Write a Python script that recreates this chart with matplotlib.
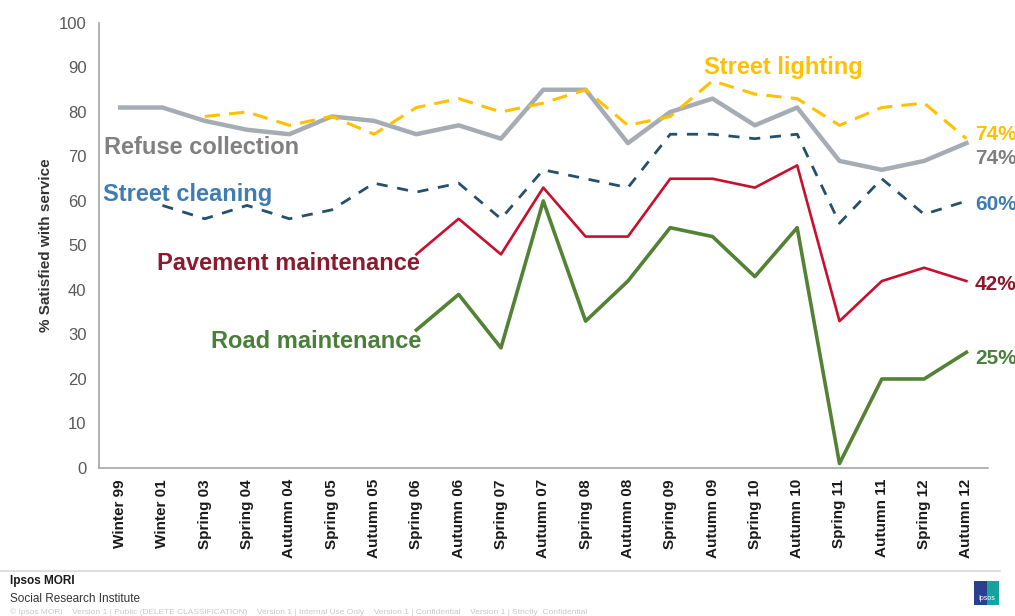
import matplotlib.pyplot as plt
from matplotlib.patches import Rectangle

plt.rcParams['font.family'] = ['Liberation Sans', 'DejaVu Sans']

waves = ['Winter 99', 'Winter 01', 'Spring 03', 'Spring 04', 'Autumn 04', 'Spring 05',
         'Autumn 05', 'Spring 06', 'Autumn 06', 'Spring 07', 'Autumn 07', 'Spring 08',
         'Autumn 08', 'Spring 09', 'Autumn 09', 'Spring 10', 'Autumn 10', 'Spring 11',
         'Autumn 11', 'Spring 12', 'Autumn 12']

# each series starts at a different wave (index into waves)
refuse_start = 0
refuse = [81, 81, 78, 76, 75, 79, 78, 75, 77, 74, 85, 85, 73, 80, 83, 77, 81, 69, 67, 69, 73]
lighting_start = 2
lighting = [79, 80, 77, 79, 75, 81, 83, 80, 82, 85, 77, 79, 87, 84, 83, 77, 81, 82, 74]
cleaning_start = 1
cleaning = [59, 56, 59, 56, 58, 64, 62, 64, 56, 67, 65, 63, 75, 75, 74, 75, 55, 65, 57, 60]
pavement_start = 7
pavement = [48, 56, 48, 63, 52, 52, 65, 65, 63, 68, 33, 42, 45, 42]
road_start = 7
road = [31, 39, 27, 60, 33, 42, 54, 52, 43, 54, 1, 20, 20, 26]

end_labels = ['74%', '74%', '60%', '42%', '25%']

fig = plt.figure(figsize=(10.15, 6.16), dpi=100)
ax = fig.add_axes([0.0975, 0.2403, 0.8755, 0.7224])

def xs(start, vals):
    return list(range(start, start + len(vals)))

ax.plot(xs(refuse_start, refuse), refuse, color='#A5ACB4', lw=3.2, zorder=3)
ax.plot(xs(lighting_start, lighting), lighting, color='#FFC000', lw=2.2,
        dashes=(5, 3), zorder=4)
ax.plot(xs(cleaning_start, cleaning), cleaning, color='#24506E', lw=2.0,
        dashes=(4, 3.5), zorder=3)
ax.plot(xs(pavement_start, pavement), pavement, color='#C8102E', lw=1.9, zorder=3)
ax.plot(xs(road_start, road), road, color='#548235', lw=2.6, zorder=3)

# series names
lab = dict(fontsize=17, fontweight='bold', va='center')
ax.text(-0.37, 72, 'Refuse collection', color='#808080', ha='left', **lab)
ax.text(13.8, 90, 'Street lighting', color='#FFC000', ha='left', **lab)
ax.text(-0.4, 61.5, 'Street cleaning', color='#3F7CB0', ha='left', **lab)
ax.text(7.08, 46, 'Pavement maintenance', color='#8B1A2E', ha='right', **lab)
ax.text(7.12, 28.5, 'Road maintenance', color='#4A7F3A', ha='right', **lab)

# last values at right edge
end_cols = ['#FFC000', '#808080', '#3F7CB0', '#8B1A2E', '#4A7F3A']
end_y = [75.0, 69.5, 59.3, 41.2, 24.6]
for txt, c, yy in zip(end_labels, end_cols, end_y):
    ax.text(20.2, yy, txt, color=c, fontsize=15, fontweight='bold', va='center',
            ha='left', clip_on=False)

ax.set_xlim(-0.5, len(waves) - 0.5)
ax.set_ylim(0, 100)
ax.set_yticks(range(0, 101, 10))
ax.set_xticks(range(len(waves)))
ax.set_xticklabels(waves, rotation=90, fontsize=11, fontweight='bold', color='#1A1A1A')
ax.tick_params(axis='x', length=0, pad=8)
ax.tick_params(axis='y', length=0, pad=9, labelsize=12, labelcolor='#595959')
ax.set_ylabel('% Satisfied with service', fontsize=11, fontweight='bold',
              color='#333333', labelpad=4)

for s in ['top', 'right']:
    ax.spines[s].set_visible(False)
for s in ['left', 'bottom']:
    ax.spines[s].set_color('#A6A6A6')
    ax.spines[s].set_linewidth(1.2)

# footer
fig.add_artist(plt.Line2D([0, 0.985], [1 - 571 / 616, 1 - 571 / 616],
                          color='#D9D9D9', lw=1.2))
fig.text(10 / 1015, 1 - 581 / 616, 'Ipsos MORI', fontsize=8.5, fontweight='bold',
         color='#1A1A1A', va='center')
fig.text(10 / 1015, 1 - 599 / 616, 'Social Research Institute', fontsize=8.5,
         color='#333333', va='center')
fig.text(10 / 1015, 1 - 612 / 616,
         '\u00a9 Ipsos MORI    Version 1 | Public (DELETE CLASSIFICATION)    Version 1 | Internal Use Only    '
         'Version 1 | Confidential    Version 1 | Strictly  Confidential',
         fontsize=6, color='#C8C8C8', va='center')
fig.add_artist(Rectangle((974 / 1015, 1 - 605 / 616), 25 / 1015, 24 / 616,
                         transform=fig.transFigure, facecolor='#2B3F8F', edgecolor='none'))
fig.add_artist(Rectangle((987 / 1015, 1 - 605 / 616), 12 / 1015, 24 / 616,
                         transform=fig.transFigure, facecolor='#17A2A0', edgecolor='none'))
fig.text(986.5 / 1015, 1 - 598 / 616, 'Ipsos', fontsize=5, color='white',
         ha='center', va='center')

fig.savefig('out.png', dpi=100)
